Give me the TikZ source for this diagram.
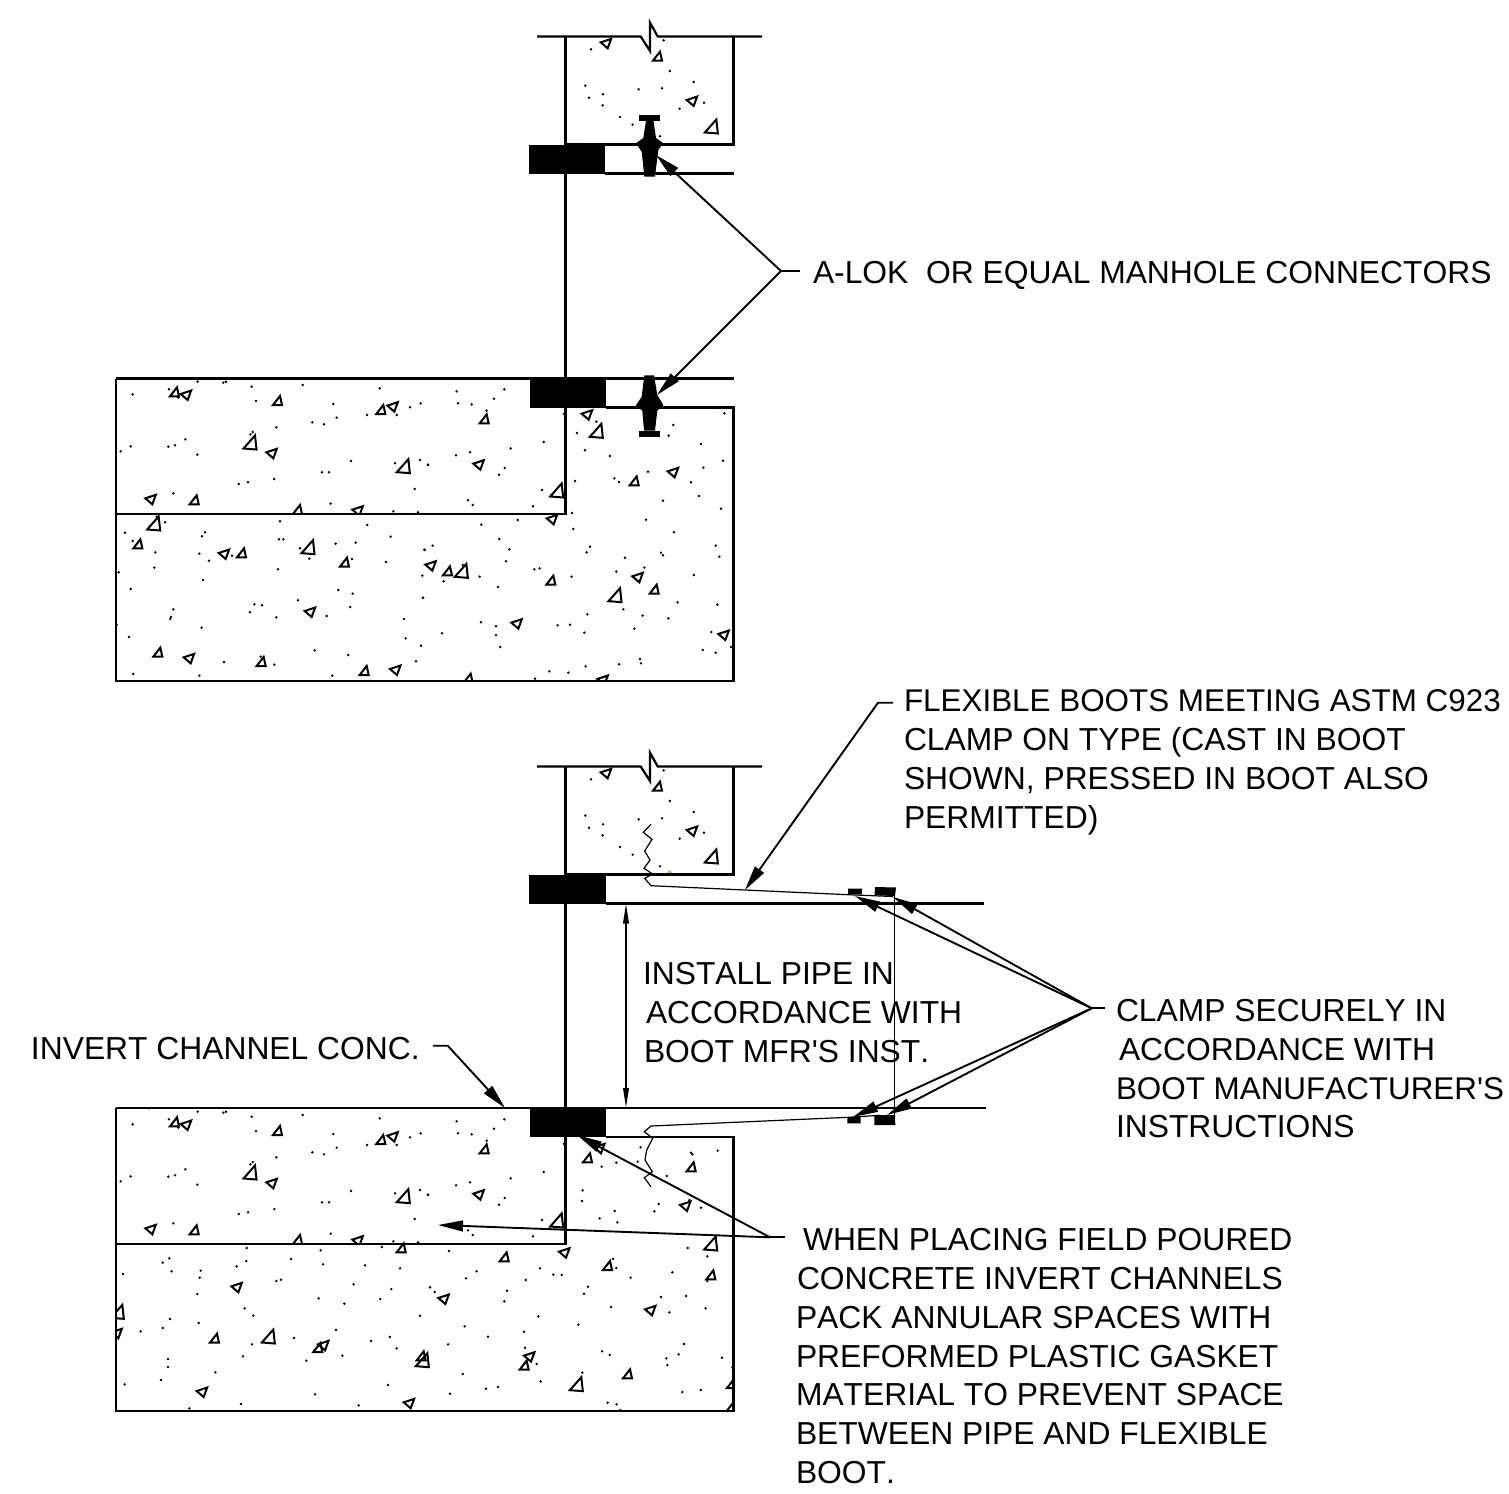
\documentclass[tikz,border=0pt]{standalone}
\usepackage{fontspec}
\newfontfamily\labfont{Liberation Sans}[Kerning=Off]
\usetikzlibrary{arrows.meta}
\tikzset{
  every picture/.style={x=0.5pt,y=-0.5pt},
  wall/.style={line width=1.1pt,black},
  thin line/.style={line width=0.6pt,black},
  agg/.style={line width=1pt,black,line join=miter},
  lead/.style={line width=0.95pt,black,-{Triangle[length=12.5pt,width=5.4pt]}},
  dimline/.style={line width=0.9pt,black,{Triangle[length=10pt,width=2.8pt]}-{Triangle[length=10pt,width=2.8pt]}},
  label/.style={anchor=base west,inner sep=0pt,outer sep=0pt,font=\labfont\fontsize{15.9}{19}\selectfont,text=black},
  edge label/.style={label,font=\labfont\fontsize{15.7}{19}\selectfont},
  solid black/.style={fill=black,draw=none}
}
\newcommand{\zdots}[3]{\foreach \a/\b in {#3}{\fill ({#1+\a/3},{#2+\b/3}) circle[radius=1.35];}}
\newcommand{\zsm}[3]{\foreach \a/\b in {#3}{\draw[agg,shift={({#1+\a/3},{#2+\b/3})}] (-5,4)--(4,4)--(2,-5)--cycle;}}
\newcommand{\zlf}[3]{\foreach \a/\b in {#3}{\draw[agg,shift={({#1+\a/3},{#2+\b/3})}] (-6,-1)--(4.5,-4.5)--(1,5)--cycle;}}
\newcommand{\zlg}[3]{\foreach \a/\b in {#3}{\draw[agg,shift={({#1+\a/3},{#2+\b/3})}] (-7.5,4.5)--(5.5,5.5)--(4,-8.5)--cycle;}}
% concrete of the upper box, repeated
\newcommand{\topbox}[1]{%
  \zdots{520}{10+#1}{431/91,213/118,449/183,521/216,196/227,207/263,249/253,248/286,356/238,426/235,552/278,479/296,300/321,338/344,420/379,168/401}
  \zlf{520}{10+#1}{260/100,518/273}
  \zsm{520}{10+#1}{414/140}
  \zlg{520}{10+#1}{577/354}
}
% concrete of the upper left section of the base, repeated
\newcommand{\benchfill}[1]{%
  \begin{scope}
  \clip (116,{378+#1}) rectangle (566,{514+#1});
  \zdots{110}{370+#1}{118/25,68/73,177/58,205/83,263/35,340/38,348/35,425/50,438/93,578/45,670/102,680/143,607/157,642/163,809/55,771/135,860/135,900/112,932/100,499/172,428/186,421/193,32/244,62/229,175/230,195/226,226/208,262/254,723/273,636/307,657/307,855/280,930/270,954/284,914/357,386/342,414/337,493/327,190/370,662/401,850/424,880/432,924/427}
  \zsm{110}{370+#1}{195/67,504/93,814/120,254/391,564/420}
  \zlf{110}{370+#1}{230/75,850/110,487/250,124/388,745/422}
  \zlg{110}{370+#1}{423/222,883/293}
  \zdots{420}{370+#1}{110/64,253/58,222/86,114/100,155/103,200/122,371/216,272/235,150/247,108/256,24/284,254/294,237/314,366/360,144/391,158/405,339/409}
  \zsm{420}{370+#1}{194/148}
  \zlf{420}{370+#1}{178/284}
  \zlg{420}{370+#1}{413/366}
  \end{scope}
}
\begin{document}
\begin{tikzpicture}
\useasboundingbox[fill=white] (0,0) rectangle (1509,1493);

% ---------- upper detail: concrete ----------
\topbox{0}
\benchfill{0}
\begin{scope}
\clip (116,378) rectangle (733.5,681);
\zdots{110}{370}{140/440,165/457,45/488,68/513,285/487,276/499,510/454,772/465,842/500,507/508,520/508,677/521,737/518,570/535,598/566,726/567,136/547,268/551,297/572,366/557,943/539,828/576,133/593,26/607,504/598,937/617,279/630,62/657,685/660,728/671,939/683,564/691,433/703,456/706,420/727,190/718,183/741,181/747,20/764,499/742,650/738,721/711,882/747,275/773,57/801,887/805,933/827,614/841,715/855,918/874,342/876,493/884,70/912,268/917,667/917,452/860}
\zsm{110}{370}{85/523,396/550,705/578,145/848,455/876,764/903}
\zlf{110}{370}{344/552,602/726,239/865,858/900}
\zlg{110}{370}{134/465,597/536}
\zdots{420}{370}{432/132,529/155,471/189,495/241,570/258,465/333,583/325,597/336,684/305,729/392,813/337,850/293,909/272,843/222,760/165,746/197,900/115,913/130,837/378,903/416,456/429,184/464,293/450,678/449,460/477,762/487,238/507,268/538,14/540,38/527,258/574,510/530,500/547,615/563,723/548,729/556,887/527,898/560,343/598,359/595,589/605,673/593,821/615,71/634,128/585,179/620,234/651,455/620,9/683,610/718,773/697,892/704,502/733,668/737,745/745,183/757,228/769,228/795,66/790,413/766,450/764,493/788,643/776,874/786,848/840,887/848,933/831,241/831,660/867,663/880,597/883,497/889,388/904,445/908,345/926}
\zlf{420}{370}{503/134,761/307,398/448,34/587,655/622,292/761,913/795,550/930}
\zsm{420}{370}{644/334,84/604,394/632,704/659,146/926}
\zlg{420}{370}{532/187,127/607,588/680}
\end{scope}

% ---------- lower detail: concrete ----------
\topbox{730}
\benchfill{730}
\begin{scope}
\clip (116,1108) rectangle (733.5,1411);
\zdots{110}{1100}{410/444,632/451,815/441,178/475,158/488,185/514,409/483,380/499,543/477,639/493,765/496,870/505,39/522,272/512,269/533,499/543,513/539,731/553,844/567,960/562,262/582,626/595,811/597,703/611,404/625,430/647,930/647,180/657,266/669,158/684,92/694,678/690,552/714,783/723,839/711,426/733,860/745,697/767,399/769,174/777,589/782,174/801,316/817,834/855,153/840,44/853,615/883,393/912,746/916,238/925}
\zsm{110}{1100}{875/445,315/716,625/744,935/769}
\zlf{110}{1100}{382/562,278/876,642/736,899/910,22/700}
\zlg{110}{1100}{478/714,940/785,25/640}
\zdots{420}{1100}{432/132,662/142,653/185,545/200,589/188,813/158,817/163,893/152,740/228,488/271,486/303,716/312,703/334,843/323,584/333,539/355,592/367,803/444,862/469,808/300,87/453,360/505,170/514,138/535,400/524,425/525,317/540,504/560,492/581,632/533,757/517,723/591,798/588,857/625,579/477,589/504,862/543,30/562,44/576,261/572,253/604,573/621,748/637,355/649,475/674,134/679,312/695,204/710,84/733,792/732,315/743,546/754,569/765,776/763,739/775,906/773,742/795,937/803,350/792,128/822,487/818,362/844,198/866,234/861,90/881,787/876,842/870,563/908,590/913,601/930}
\zlf{420}{1100}{540/145,798/318,435/458,73/597,693/631,330/770}
\zsm{420}{1100}{504/175,815/202,254/472,564/498,874/526,624/823,314/797,936/852,932/925}
\zlg{420}{1100}{875/435,472/857}
\end{scope}
\draw[draw={rgb,255:red,200;green,165;blue,100},line width=0.6pt] (666.5,874) -- (669.5,871) -- (673,874);

% ---------- upper detail: outlines ----------
\draw[wall] (537,36.5) -- (640.7,36.5) -- (650,51) -- (650,22.7) -- (657.7,36.5) -- (762,36.5);
\draw[wall] (565.5,36.5) -- (565.5,144.5) -- (733.5,144.5) -- (733.5,36.5);
\draw[wall] (605,173.5) -- (734,173.5);
\draw[wall] (565.5,173.5) -- (565.5,514) -- (116,514);
\draw[wall] (116,378.5) -- (734,378.5);
\draw[wall] (116,378.5) -- (116,681) -- (733.5,681) -- (733.5,407.5) -- (606,407.5);
\fill[solid black] (529,144.5) rectangle (605,173.5);
\fill[solid black] (530,378.5) rectangle (606,407.5);

% connector, top
\fill[solid black] (639,115) rectangle (660,121);
\fill[solid black] (646,121) -- (653.5,121) -- (656,138) -- (663.3,143.3) -- (658.3,150) -- (655,176.7) -- (644.3,176.7) -- (641.7,151.7) -- (636,143.3) -- (643.3,138) -- cycle;
% connector, bottom
\fill[solid black] (644.3,375.3) -- (654,375.3) -- (657.3,395) -- (663.3,405) -- (657.3,410.7) -- (655,430.7) -- (644,430.7) -- (642.3,410.7) -- (635.7,405.7) -- (641.7,396.7) -- cycle;
\fill[solid black] (639,430.7) rectangle (660.3,436.7);

% ---------- lower detail: outlines ----------
\draw[wall] (537,766.5) -- (640.7,766.5) -- (650,781) -- (650,752.7) -- (657.7,766.5) -- (762,766.5);
\draw[wall] (565.5,766.5) -- (565.5,874.5) -- (733.5,874.5) -- (733.5,766.5);
\draw[wall] (606,903.5) -- (984,903.5);
\draw[wall] (565.5,903.5) -- (565.5,1244) -- (116,1244);
\draw[wall] (116,1108) -- (986,1108);
\draw[wall] (116,1108) -- (116,1411) -- (733.5,1411) -- (733.5,1137) -- (606,1137);
\fill[solid black] (529,874.5) rectangle (606,903.5);
\fill[solid black] (530,1108) rectangle (606,1137);

% boots (wavy end and sleeve) and clamps
\draw[thin line] (651,824.3) -- (643.3,832.3) -- (652,839.3) -- (644.7,851) -- (650,860) -- (644,868.3) -- (652.7,874) -- (644.7,878.3) -- (651,885.7) -- (848,894.7);
\draw[thin line] (848,894.7) -- (893,896.5);
\fill[solid black] (848,888.5) -- (862,888.5) -- (861.7,894.5) -- (848,894) -- cycle;
\fill[solid black] (875,887) -- (896,887.5) -- (895,896) -- (874.5,895.3) -- cycle;
\draw[thin line] (651,1126) -- (644.3,1131.7) -- (652.7,1138.3) -- (646.7,1150) -- (645,1160) -- (652.3,1171.7) -- (644.3,1177.7) -- (651,1186.7);
\draw[thin line] (651,1126) -- (848,1117.3) -- (880,1115.3);
\fill[solid black] (847.3,1117.3) -- (860.7,1116.7) -- (860.7,1123.3) -- (847.3,1123.3) -- cycle;
\fill[solid black] (874.3,1115) -- (895,1115) -- (895.3,1125) -- (874.3,1125) -- cycle;
\draw[thin line] (894.3,896) -- (894.3,1115);

% ---------- labels ----------
\node[label] (alok) at (813,283) {A-LOK\ \ OR EQUAL MANHOLE CONNECTORS};
\node[edge label] (flex1) at (904,711) {FLEXIBLE BOOTS MEETING ASTM C923};
\node[label] (flex2) at (904,750) {CLAMP ON TYPE (CAST IN BOOT};
\node[label] (flex3) at (904,789) {SHOWN, PRESSED IN BOOT ALSO};
\node[label] (flex4) at (904,828) {PERMITTED)};
\node[label] (inst1) at (643,984) {INSTALL PIPE IN};
\node[label] (inst2) at (646,1023) {ACCORDANCE WITH};
\node[label] (inst3) at (644,1062) {BOOT MFR'S INST.};
\node[label] (clamp1) at (1116,1021) {CLAMP SECURELY IN};
\node[label] (clamp2) at (1119,1060) {ACCORDANCE WITH};
\node[edge label] (clamp3) at (1116,1099) {BOOT MANUFACTURER'S};
\node[label] (clamp4) at (1116,1137) {INSTRUCTIONS};
\node[label] (invert) at (31,1059) {INVERT CHANNEL CONC.};
\node[label] (when1) at (803,1250) {WHEN PLACING FIELD POURED};
\node[label] (when2) at (797,1289) {CONCRETE INVERT CHANNELS};
\node[label] (when3) at (796,1328) {PACK ANNULAR SPACES WITH};
\node[label] (when4) at (796,1367) {PREFORMED PLASTIC GASKET};
\node[label] (when5) at (796,1405) {MATERIAL TO PREVENT SPACE};
\node[label] (when6) at (796,1444) {BETWEEN PIPE AND FLEXIBLE};
\node[label] (when7) at (796,1483) {BOOT.};

% ---------- leaders ----------
\coordinate (alokEnd) at (800,271);
\coordinate (alokBend) at (781,271);
\coordinate (alokTipA) at (656,155);
\coordinate (alokTipB) at (657,395);
\draw[wall] (alokEnd) -- (alokBend);
\draw[lead] (alokBend) -- (alokTipA);
\draw[lead] (alokBend) -- (alokTipB);

\coordinate (flexEnd) at (893,702.7);
\coordinate (flexBend) at (878,702.7);
\coordinate (flexTip) at (745,890);
\draw[lead] (flexEnd) -- (flexBend) -- (flexTip);

\coordinate (clampEnd) at (1105,1008.3);
\coordinate (clampBend) at (1091.7,1008.3);
\coordinate (clampTipA) at (855,896);
\coordinate (clampTipB) at (893,897);
\coordinate (clampTipC) at (853,1117);
\coordinate (clampTipD) at (887,1115);
\draw[wall] (clampEnd) -- (clampBend);
\draw[lead] (clampBend) -- (clampTipA);
\draw[lead] (clampBend) -- (clampTipB);
\draw[lead] (clampBend) -- (clampTipC);
\draw[lead] (clampBend) -- (clampTipD);

\coordinate (dimTop) at (626,903.5);
\coordinate (dimBot) at (626,1108);
\draw[dimline] (dimTop) -- (dimBot);

\coordinate (invEnd) at (433,1045.7);
\coordinate (invBend) at (447.7,1045.7);
\coordinate (invTip) at (505,1108);
\draw[lead] (invEnd) -- (invBend) -- (invTip);

\coordinate (whenEnd) at (785,1237.3);
\coordinate (whenBend) at (770,1237.3);
\coordinate (whenTipA) at (577,1135);
\coordinate (whenTipB) at (438,1225);
\draw[wall] (whenEnd) -- (whenBend);
\draw[lead] (whenBend) -- (whenTipA);
\draw[lead] (whenBend) -- (whenTipB);
\end{tikzpicture}
\end{document}
